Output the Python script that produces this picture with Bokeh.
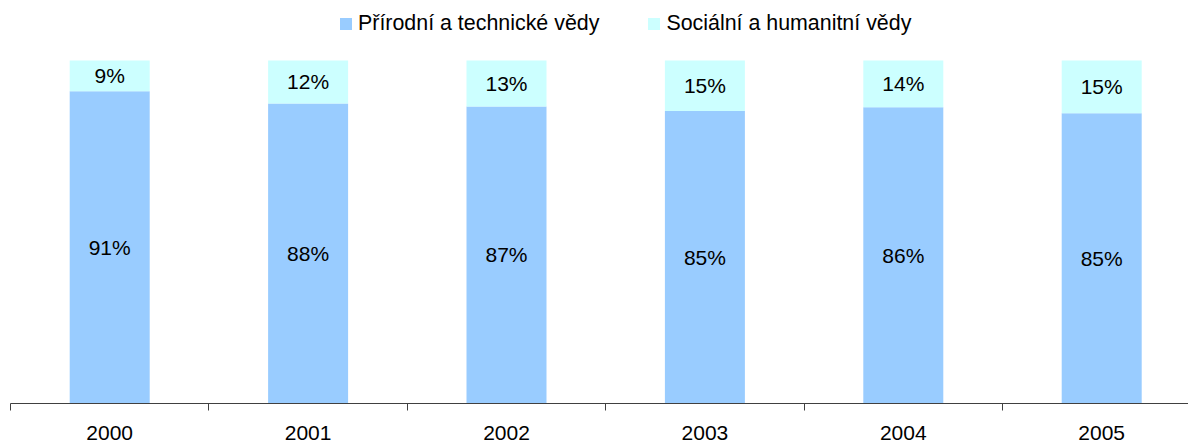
from bokeh.plotting import figure
from bokeh.models import ColumnDataSource, Range1d, FixedTicker, LabelSet, Legend
from bokeh.core.properties import value
from bokeh.embed import file_html
from bokeh.resources import INLINE

years = ["2000", "2001", "2002", "2003", "2004", "2005"]
natural = [91.0, 87.5, 86.6, 85.3, 86.4, 84.6]
social = [9.0, 12.5, 13.4, 14.7, 13.6, 15.4]
series_names = ["Přírodní a technické vědy", "Sociální a humanitní vědy"]
colors = ["#99CCFF", "#CCFFFF"]

FONT = "Liberation Sans"
FS = "21px"

xs = list(range(len(years)))
src = ColumnDataSource(dict(
    x=xs,
    natural=natural,
    social=social,
    nat_mid=[v / 2 for v in natural],
    soc_mid=[n + s / 2 for n, s in zip(natural, social)],
    nat_lab=[f"{round(v)}%" for v in natural],
    soc_lab=[f"{round(v)}%" for v in social],
))

W, H = 1188, 444
LEFT = 10
cat_px = 198.4
frame_w = W - LEFT
p = figure(width=W, height=H, output_backend="svg", toolbar_location=None,
           x_range=Range1d(-0.5, -0.5 + frame_w / cat_px),
           y_range=Range1d(0, 100 * 395 / 343),
           min_border_left=LEFT, min_border_right=0, min_border_top=8,
           min_border_bottom=41)
p.outline_line_color = None
p.grid.visible = False
p.yaxis.visible = False
p.background_fill_color = "white"
p.border_fill_color = "white"

renderers = p.vbar_stack(["natural", "social"], x="x", width=80 / cat_px,
                         color=colors, line_color=None, source=src)

for col_y, col_t in (("nat_mid", "nat_lab"), ("soc_mid", "soc_lab")):
    p.add_layout(LabelSet(x="x", y=col_y, text=col_t, source=src,
                          text_align="center", text_baseline="middle",
                          text_font=value(FONT), text_font_size=value(FS),
                          text_color="black"))

ax = p.xaxis[0]
ax.ticker = FixedTicker(ticks=xs, minor_ticks=[i - 0.5 for i in range(len(years) + 1)])
ax.major_label_overrides = {i: y for i, y in enumerate(years)}
ax.major_tick_line_color = None
ax.major_tick_out = 0
ax.major_tick_in = 0
ax.minor_tick_out = 7
ax.minor_tick_in = 0
ax.minor_tick_line_color = "#404040"
ax.axis_line_color = "#404040"
ax.major_label_standoff = 15
ax.major_label_text_font = FONT
ax.major_label_text_font_size = FS
ax.major_label_text_color = "black"

legend = Legend(items=[(series_names[0], [renderers[0]]), (series_names[1], [renderers[1]])],
                orientation="horizontal", location=(328, 367),
                glyph_width=15, glyph_height=15, label_standoff=5, spacing=47,
                label_text_font=FONT, label_text_font_size="21.4px", label_text_color="black",
                border_line_color=None, background_fill_alpha=0, padding=0, margin=0)
p.add_layout(legend, "center")

open("out.html", "w").write(file_html(p, INLINE))
